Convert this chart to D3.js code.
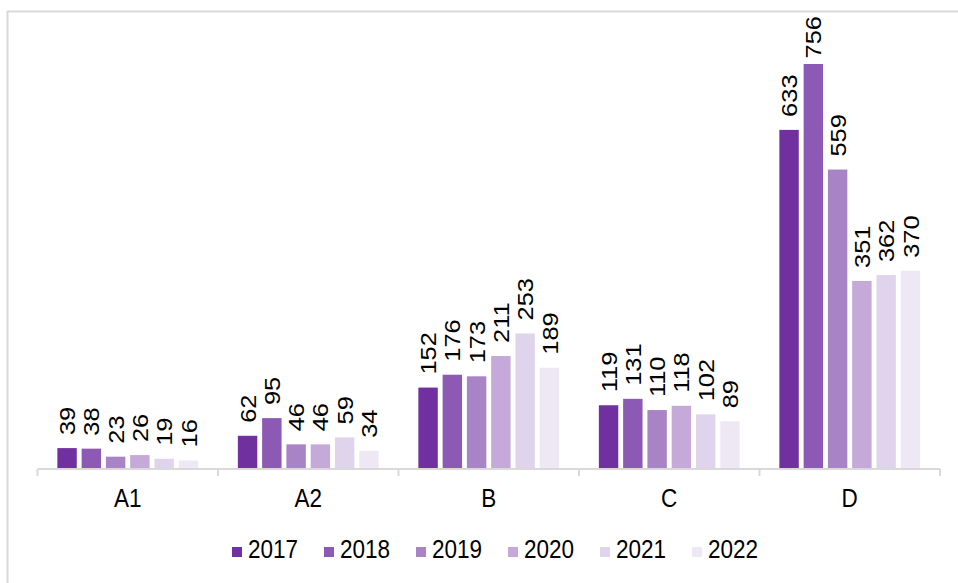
<!DOCTYPE html>
<html>
<head>
<meta charset="utf-8">
<script src="https://cdn.jsdelivr.net/npm/d3@7"></script>
<style>
  html, body { margin: 0; padding: 0; background: #fff; }
  svg { display: block; }
  text { font-family: Arial, "Liberation Sans", sans-serif; fill: #000; }
</style>
</head>
<body>
<svg id="chart" width="958" height="583"></svg>
<script>
const categories = ["A1", "A2", "B", "C", "D"];
const years = ["2017", "2018", "2019", "2020", "2021", "2022"];
const values2017 = [39, 62, 152, 119, 633];
const values2018 = [38, 95, 176, 131, 756];
const values2019 = [23, 46, 173, 110, 559];
const values2020 = [26, 46, 211, 118, 351];
const values2021 = [19, 59, 253, 102, 362];
const values2022 = [16, 34, 189, 89, 370];
const colors = ["#7030a0", "#8c5ab4", "#a883c6", "#c5aad9", "#e0d4ec", "#eee8f5"];

const series = [values2017, values2018, values2019, values2020, values2021, values2022];
const rows = [];
categories.forEach((c, ci) => years.forEach((y, yi) => rows.push({ cat: c, year: y, value: series[yi][ci], color: colors[yi] })));

const svg = d3.select("#chart");
const plot = { left: 37.5, right: 940, base: 469 };
const fontSize = 22.5;
const stretch = 1.13;

// frame
svg.append("rect").attr("x", 7.5).attr("y", 11.5).attr("width", 1000).attr("height", 1000)
  .attr("fill", "none").attr("stroke", "#d9d9d9").attr("stroke-width", 2);

const x0 = d3.scaleBand().domain(categories).range([plot.left, plot.right]).padding(0);
const groupW = x0.bandwidth() * 0.78;
const x1 = d3.scaleBand().domain(years).range([0, groupW]).paddingInner(0.2).paddingOuter(0);
const y = d3.scaleLinear().domain([0, 800]).range([plot.base, plot.base - 800 * 405 / 756]);

const g = svg.append("g");
const offset = (x0.bandwidth() - groupW) / 2;

g.selectAll("rect.bar").data(rows).join("rect")
  .attr("class", "bar")
  .attr("x", d => x0(d.cat) + offset + x1(d.year))
  .attr("y", d => y(d.value))
  .attr("width", x1.bandwidth())
  .attr("height", d => y(0) - y(d.value))
  .attr("fill", d => d.color);

// labels
const labels = g.selectAll("text.lbl").data(rows).join("text")
  .attr("class", "lbl")
  .attr("font-size", fontSize)
  .attr("text-anchor", "start")
  .attr("dy", "0.36em")
  .text(d => d.value);
labels.each(function(d) {
  const len = this.getComputedTextLength() * stretch;
  let start = y(d.value) - 13;
  const minTop = 16;
  if (start - len < minTop) start = minTop + len;
  const cx = x0(d.cat) + offset + x1(d.year) + x1.bandwidth() / 2;
  d3.select(this).attr("transform", `translate(${cx},${start}) scale(1,${stretch}) rotate(-90)`);
});

// axis
const axis = d3.axisBottom(x0).tickSize(0).tickPadding(0);
const axG = svg.append("g").attr("transform", `translate(0,${plot.base})`).call(axis);
axG.select(".domain").attr("stroke", "#d9d9d9").attr("stroke-width", 2)
  .attr("d", `M${plot.left},0H${plot.right}`);
axG.selectAll(".tick text").attr("font-size", fontSize).attr("font-family", "Arial, 'Liberation Sans', sans-serif")
  .attr("fill", "#000").attr("y", 0).attr("dy", 0)
  .attr("transform", `translate(0,38) scale(1,${stretch})`);
const bounds = categories.map(c => x0(c)).concat([plot.right]);
axG.selectAll("line.sep").data(bounds).join("line").attr("class", "sep")
  .attr("x1", d => d).attr("x2", d => d).attr("y1", 0).attr("y2", 7)
  .attr("stroke", "#d9d9d9").attr("stroke-width", 2);

// legend
const leg = svg.append("g").attr("transform", "translate(232,549)");
const item = leg.selectAll("g").data(years).join("g")
  .attr("transform", (d, i) => `translate(${i * 92},0)`);
item.append("rect").attr("x", 0).attr("y", -2).attr("width", 10).attr("height", 10)
  .attr("fill", (d, i) => colors[i]);
item.append("text").attr("x", 0).attr("y", 0)
  .attr("transform", `translate(16,9) scale(1,${stretch})`)
  .attr("font-size", fontSize).text(d => d);
</script>
</body>
</html>
